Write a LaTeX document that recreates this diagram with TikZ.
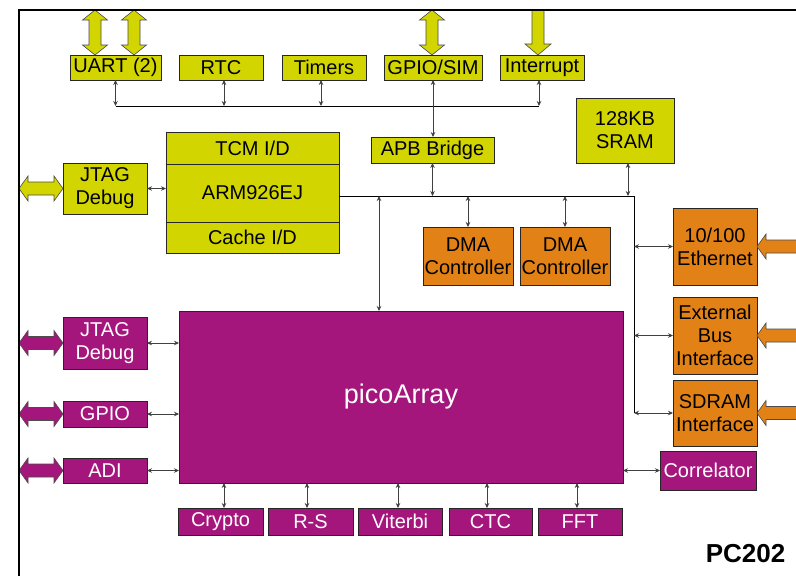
\documentclass[tikz,border=0pt]{standalone}
\usepackage{fontspec}
\setmainfont{Liberation Sans}
\usetikzlibrary{arrows.meta,calc}
\definecolor{yel}{RGB}{210,213,0}
\definecolor{org}{RGB}{226,130,22}
\definecolor{pur}{RGB}{165,22,124}
\tikzset{
  box/.style={draw=black!85, line width=0.8pt, inner sep=0pt, outer sep=0pt, align=center, font=\fontsize{20}{23}\selectfont},
  ybox/.style={box, fill=yel, text=black},
  obox/.style={box, fill=org, text=black},
  pbox/.style={box, fill=pur, text=white},
  dar/.style={black!75, line width=0.7pt, {Stealth[length=5pt,width=4.5pt]}-{Stealth[length=5pt,width=4.5pt]}},
  busline/.style={black, line width=0.8pt},
  blk/.style={draw=black!70, line width=0.6pt},
}
\newcommand\vdarrow[3]{\filldraw[blk,fill=#1] let \p1=(#2), \p2=(#3) in
  (\x1,\y1) -- (\x1+12.5pt,\y1-10pt) -- (\x1+6pt,\y1-10pt) -- (\x1+6pt,\y2+10pt) -- (\x1+12.5pt,\y2+10pt) -- (\x1,\y2)
  -- (\x1-12.5pt,\y2+10pt) -- (\x1-6pt,\y2+10pt) -- (\x1-6pt,\y1-10pt) -- (\x1-12.5pt,\y1-10pt) -- cycle;}
\newcommand\vsarrow[3]{\filldraw[blk,fill=#1] let \p1=(#2), \p2=(#3) in
  (\x1-6pt,\y1) -- (\x1-6pt,\y2+11pt) -- (\x1-13pt,\y2+11pt) -- (\x1,\y2) -- (\x1+13pt,\y2+11pt) -- (\x1+6pt,\y2+11pt) -- (\x1+6pt,\y1) -- cycle;}
\newcommand\hdarrow[3]{\filldraw[blk,fill=#1] let \p1=(#2), \p2=(#3) in
  (\x1,\y1) -- (\x1+9pt,\y1+12.5pt) -- (\x1+9pt,\y1+6.5pt) -- (\x2-9pt,\y1+6.5pt) -- (\x2-9pt,\y1+12.5pt) -- (\x2,\y1)
  -- (\x2-9pt,\y1-12.5pt) -- (\x2-9pt,\y1-6.5pt) -- (\x1+9pt,\y1-6.5pt) -- (\x1+9pt,\y1-12.5pt) -- cycle;}
\begin{document}
\begin{tikzpicture}[x=1pt,y=-1pt]
\clip (0,0) rectangle (796,576);
\fill[white] (0,0) rectangle (796,576);
\coordinate (ftop) at (0,10);
\coordinate (fleft) at (19,0);
\coordinate (fright) at (820,0);
\coordinate (apbus) at (0,106);
\coordinate (mbus) at (0,196);
\coordinate (vbus) at (634,0);
\coordinate (pa) at (379,0);

% top row
\node[ybox, minimum width=91, minimum height=25] (uart) at (115.5,67.5) {UART (2)};
\node[ybox, minimum width=84, minimum height=25] (rtc) at (221,67.5) {RTC};
\node[ybox, minimum width=84, minimum height=25] (timers) at (324,67.5) {Timers};
\node[ybox, minimum width=98, minimum height=25] (gpiosim) at (433,67.5) {GPIO/SIM};
\node[ybox, minimum width=84, minimum height=25] (intr) at (542,67.5) {Interrupt};
\node[ybox, minimum width=123, minimum height=26] (apb) at (432.5,150) {APB Bridge};
\node[ybox, minimum width=98, minimum height=65] (sram) at (625,130.5) {128KB\\SRAM};
% ARM
\node[ybox, minimum width=173, minimum height=32] (tcm) at (252.5,148) {TCM I/D};
\node[ybox, minimum width=173, minimum height=58] (arm) at (252.5,193) {ARM926EJ};
\node[ybox, minimum width=173, minimum height=31] (cache) at (252.5,237.5) {Cache I/D};
\node[ybox, minimum width=84, minimum height=51] (jtag1) at (105,188.5) {JTAG\\Debug};
% DMA
\node[obox, minimum width=90, minimum height=58] (dma1) at (468,256) {DMA\\Controller};
\node[obox, minimum width=90, minimum height=58] (dma2) at (565,256) {DMA\\Controller};
% right interfaces
\node[obox, minimum width=84, minimum height=77] (eth) at (715,246.5) {10/100\\Ethernet};
\node[obox, minimum width=84, minimum height=77] (ebi) at (715,335.5) {External\\Bus\\Interface};
\node[obox, minimum width=84, minimum height=66] (sdram) at (715,413) {SDRAM\\Interface};
% picoArray
\node[pbox, minimum width=444, minimum height=172, font=\fontsize{27}{30}\selectfont] (pico) at (401,397) {picoArray};
\node[pbox, minimum width=96, minimum height=39] (corr) at (708,470.5) {Correlator};
\node[pbox, minimum width=84, minimum height=52] (jtag2) at (105,343) {JTAG\\Debug};
\node[pbox, minimum width=84, minimum height=26] (gpio) at (105,414) {GPIO};
\node[pbox, minimum width=84, minimum height=25] (adi) at (105,470.5) {ADI};
\node[pbox, minimum width=85, minimum height=27] (crypto) at (220.5,521.5) {Crypto};
\node[pbox, minimum width=85, minimum height=27] (rs) at (310.5,521.5) {R-S};
\node[pbox, minimum width=84, minimum height=27] (viterbi) at (400,521.5) {Viterbi};
\node[pbox, minimum width=83, minimum height=27] (ctc) at (490.5,521.5) {CTC};
\node[pbox, minimum width=84, minimum height=27] (fft) at (580,521.5) {FFT};
\node[font=\bfseries\fontsize{26}{30}\selectfont] (pc) at (745.5,554) {PC202};

% block arrows
\coordinate (ua1) at ([xshift=-20.5pt]uart.north);
\coordinate (ua2) at ([xshift=18.5pt]uart.north);
\coordinate (ga) at ([xshift=-1pt]gpiosim.north);
\coordinate (ia) at ([xshift=-4pt]intr.north);
\vdarrow{yel}{ua1 |- ftop}{ua1}
\vdarrow{yel}{ua2 |- ftop}{ua2}
\vdarrow{yel}{ga |- ftop}{ga}
\vsarrow{yel}{ia |- ftop}{ia}
\hdarrow{yel}{fleft |- jtag1.west}{jtag1.west}
\hdarrow{pur}{fleft |- jtag2.west}{jtag2.west}
\hdarrow{pur}{fleft |- gpio.west}{gpio.west}
\hdarrow{pur}{fleft |- adi.west}{adi.west}
\hdarrow{org}{eth.east}{eth.east -| fright}
\hdarrow{org}{ebi.east}{ebi.east -| fright}
\hdarrow{org}{sdram.east}{sdram.east -| fright}

% frame
\draw[line width=2.4pt] (19,590) -- (19,10) -- (810,10);

% APB bus
\draw[busline] (uart.south |- apbus) -- ([xshift=-3pt]intr.south |- apbus);
\draw[dar] (uart.south) -- (uart.south |- apbus);
\draw[dar] ([xshift=3pt]rtc.south) -- ([xshift=3pt]rtc.south |- apbus);
\draw[dar] ([xshift=-3pt]timers.south) -- ([xshift=-3pt]timers.south |- apbus);
\draw[dar] ([xshift=-3pt]intr.south) -- ([xshift=-3pt]intr.south |- apbus);
\draw[dar] (gpiosim.south) -- (gpiosim.south |- apb.north);

% main bus
\draw[busline] (arm.east |- mbus) -- (vbus |- mbus) -- (vbus |- sdram.west);
\draw[dar] (apb.south) -- (apb.south |- mbus);
\draw[dar] ([xshift=3pt]sram.south) -- ([xshift=3pt]sram.south |- mbus);
\draw[dar] (pa |- mbus) -- (pa |- pico.north);
\draw[dar] (dma1.north |- mbus) -- (dma1.north);
\draw[dar] (dma2.north |- mbus) -- (dma2.north);
\draw[dar] (vbus |- eth.west) -- (eth.west);
\draw[dar] (vbus |- ebi.west) -- (ebi.west);
\draw[dar] (vbus |- sdram.west) -- (sdram.west);

% side links
\draw[dar] (jtag1.east) -- (jtag1.east -| arm.west);
\draw[dar] (jtag2.east) -- (jtag2.east -| pico.west);
\draw[dar] (gpio.east) -- (gpio.east -| pico.west);
\draw[dar] (adi.east) -- (adi.east -| pico.west);
\draw[dar] (corr.west -| pico.east) -- (corr.west);
\draw[dar] ([xshift=3.5pt]crypto.north |- pico.south) -- ([xshift=3.5pt]crypto.north);
\draw[dar] ([xshift=-3.5pt]rs.north |- pico.south) -- ([xshift=-3.5pt]rs.north);
\draw[dar] ([xshift=-2pt]viterbi.north |- pico.south) -- ([xshift=-2pt]viterbi.north);
\draw[dar] ([xshift=-3.5pt]ctc.north |- pico.south) -- ([xshift=-3.5pt]ctc.north);
\draw[dar] ([xshift=-3pt]fft.north |- pico.south) -- ([xshift=-3pt]fft.north);
\end{tikzpicture}
\end{document}
